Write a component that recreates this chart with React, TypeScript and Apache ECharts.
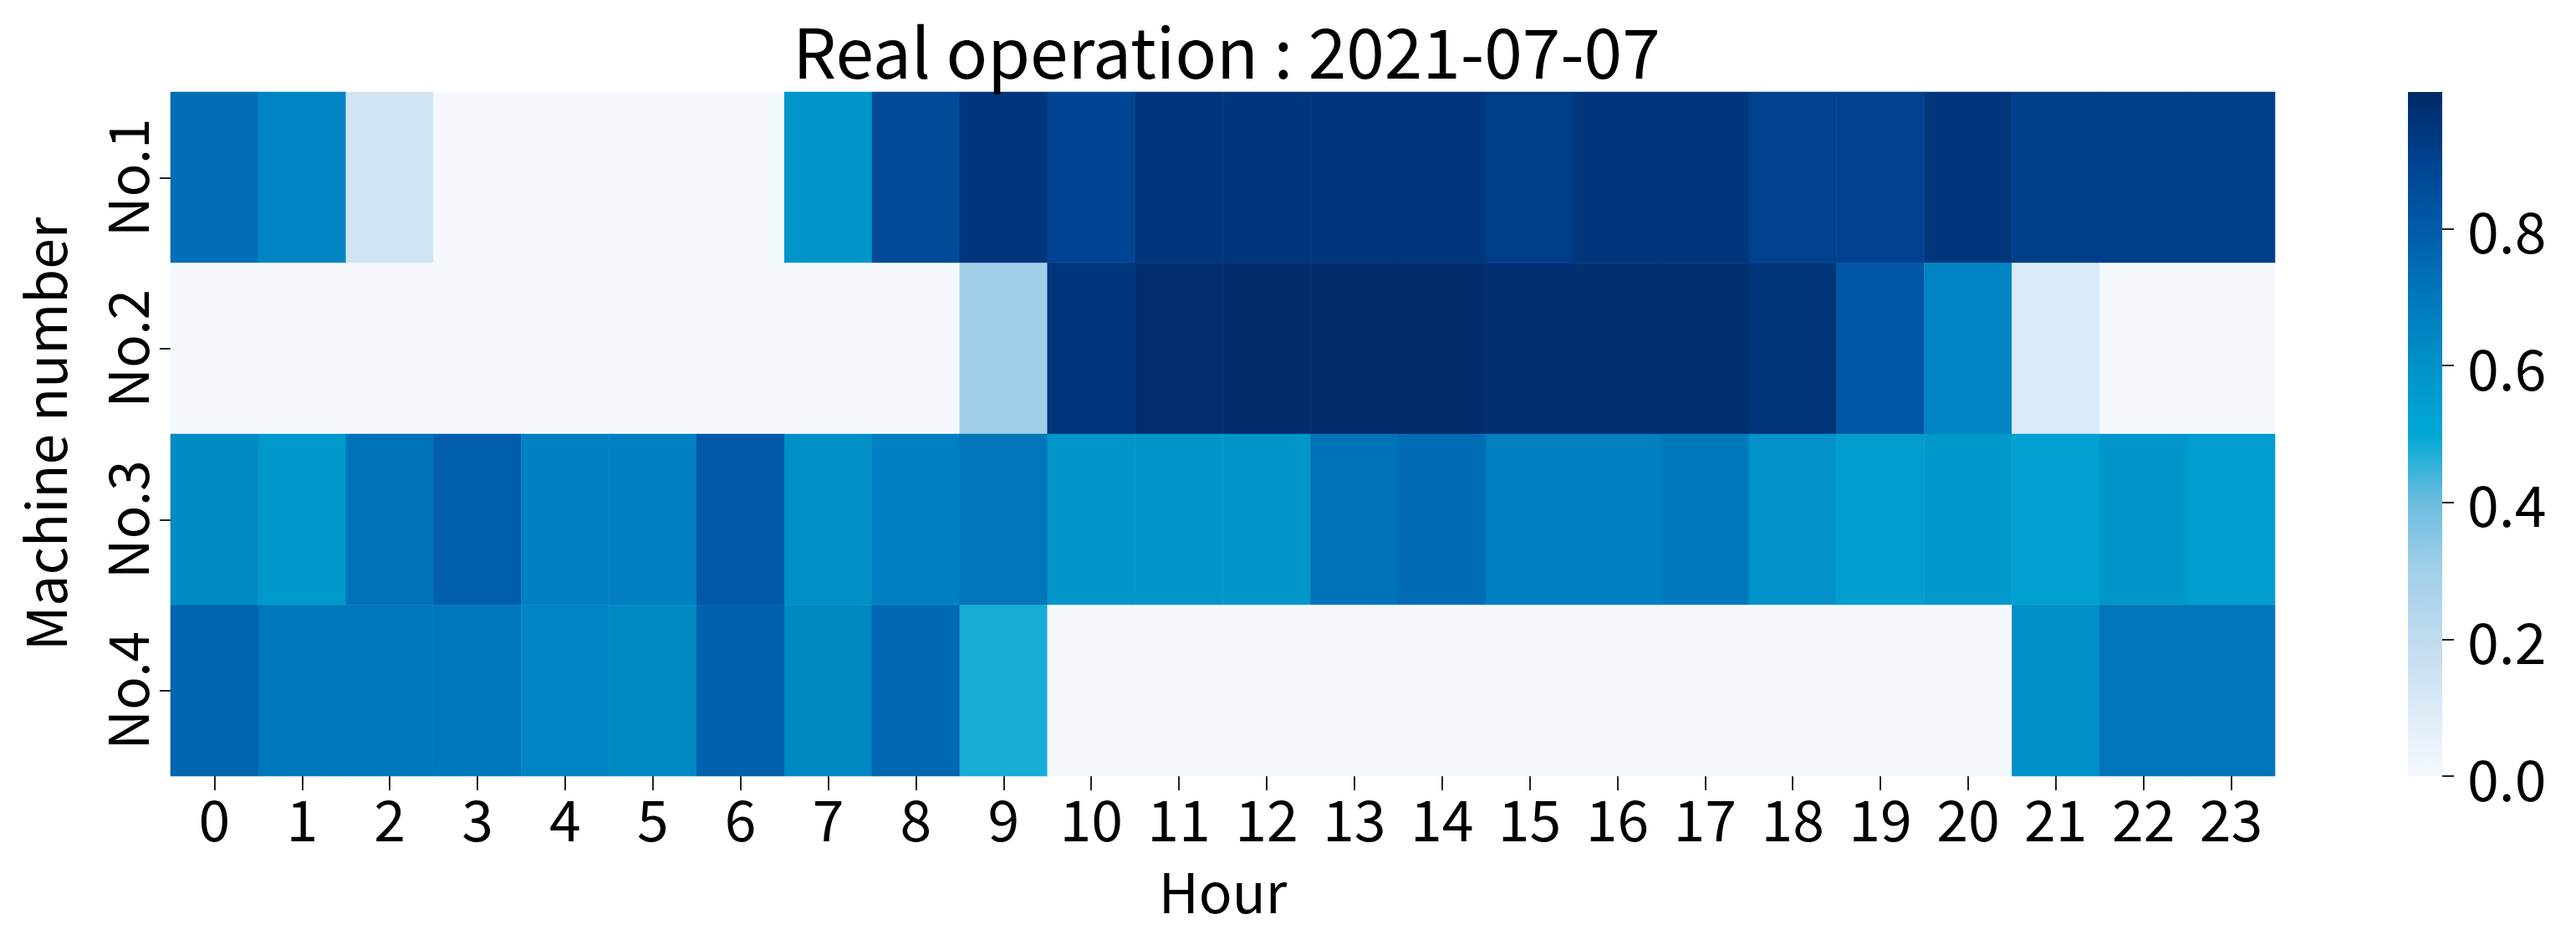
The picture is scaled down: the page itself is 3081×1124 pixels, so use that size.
import React, { useEffect, useRef } from "react";
import * as echarts from "echarts";

const hours = ["0","1","2","3","4","5","6","7","8","9","10","11","12","13","14","15","16","17","18","19","20","21","22","23"];
const machines = ["No.1", "No.2", "No.3", "No.4"];

const no1 = [0.73,0.65,0.14,0,0,0,0,0.58,0.87,0.95,0.89,0.95,0.95,0.95,0.95,0.92,0.95,0.95,0.90,0.90,0.95,0.915,0.915,0.915];
const no2 = [0,0,0,0,0,0,0,0,0,0.3,0.95,0.985,0.99,0.99,0.99,0.975,0.98,0.98,0.96,0.82,0.65,0.1,0,0];
const no3 = [0.63,0.57,0.72,0.79,0.67,0.67,0.81,0.61,0.67,0.71,0.58,0.58,0.58,0.72,0.74,0.67,0.67,0.70,0.60,0.55,0.57,0.53,0.58,0.55];
const no4 = [0.77,0.70,0.70,0.70,0.65,0.63,0.78,0.64,0.76,0.48,0,0,0,0,0,0,0,0,0,0,0,0.61,0.71,0.71];

const colorbarTicks = [0, 0.2, 0.4, 0.6, 0.8];
const colorbarRange = [0, 1];
const colorStops = ["#f5f9fe","#dbeaf7","#c0dbef","#a2cfe8","#6dbde0","#00a8d4","#0092c8","#0078bc","#005ba9","#004290","#002a68"];

const FONT = "Noto Sans CJK JP";

export default function App() {
  const ref = useRef<HTMLDivElement>(null);
  useEffect(() => {
    if (!ref.current) return;
    const chart = echarts.init(ref.current, null, { renderer: "svg" });
    const rows = [no1, no2, no3, no4];
    const data: number[][] = [];
    rows.forEach((r, yi) => r.forEach((v, xi) => data.push([xi, yi, v])));
    const gradient = new echarts.graphic.LinearGradient(
      0, 1, 0, 0,
      colorStops.map((c, i) => ({ offset: i / (colorStops.length - 1), color: c }))
    );
    chart.setOption({
      animation: false,
      backgroundColor: "#ffffff",
      textStyle: { fontFamily: FONT, color: "#000" },
      title: {
        text: "Real operation : 2021-07-07",
        left: 1462,
        top: 12,
        textAlign: "center",
        textStyle: { fontFamily: FONT, fontSize: 82, fontWeight: "normal", color: "#000" },
      },
      grid: [
        { left: 204, top: 110, width: 2517, height: 818 },
        { left: 2880, top: 110, width: 41, height: 818 },
      ],
      xAxis: [
        {
          type: "category",
          data: hours,
          gridIndex: 0,
          name: "Hour",
          nameLocation: "middle",
          nameGap: 102,
          nameTextStyle: { fontFamily: FONT, fontSize: 66, color: "#000" },
          axisLine: { show: false },
          axisTick: { show: true, alignWithLabel: true, length: 17, lineStyle: { color: "#222", width: 2 } },
          axisLabel: { fontFamily: FONT, fontSize: 68, color: "#000", margin: 14, interval: 0 },
          splitLine: { show: false },
        },
        {
          type: "category",
          gridIndex: 1,
          data: ["cb"],
          show: false,
          boundaryGap: true,
        },
      ],
      yAxis: [
        {
          type: "category",
          data: machines,
          gridIndex: 0,
          inverse: true,
          name: "Machine number",
          nameLocation: "middle",
          nameGap: 120,
          nameRotate: 90,
          nameTextStyle: { fontFamily: FONT, fontSize: 66, color: "#000" },
          axisLine: { show: false },
          axisTick: { show: true, alignWithLabel: true, length: 13, lineStyle: { color: "#222", width: 2 } },
          axisLabel: { fontFamily: FONT, fontSize: 66, color: "#000", rotate: 90, margin: 22 },
          splitLine: { show: false },
        },
        {
          type: "value",
          gridIndex: 1,
          position: "right",
          min: colorbarRange[0],
          max: colorbarRange[1],
          axisLine: { show: false },
          splitLine: { show: false },
          axisTick: { show: true, length: 14, customValues: colorbarTicks, lineStyle: { color: "#222", width: 2 } },
          axisLabel: {
            show: true,
            customValues: colorbarTicks,
            fontFamily: FONT,
            fontSize: 68,
            color: "#000",
            margin: 30,
            formatter: (v: number) => v.toFixed(1),
          },
        },
      ],
      visualMap: {
        type: "continuous",
        show: false,
        min: colorbarRange[0],
        max: colorbarRange[1],
        seriesIndex: 0,
        inRange: { color: colorStops },
      },
      series: [
        {
          type: "heatmap",
          xAxisIndex: 0,
          yAxisIndex: 0,
          data,
          itemStyle: { borderWidth: 0 },
          emphasis: { disabled: true },
        },
        {
          type: "bar",
          xAxisIndex: 1,
          yAxisIndex: 1,
          data: [colorbarRange[1]],
          barWidth: "100%",
          itemStyle: { color: gradient },
          emphasis: { disabled: true },
          silent: true,
        },
      ],
    });
    return () => chart.dispose();
  }, []);
  return (
    <div
      ref={ref}
      style={{ position: "absolute", left: 0, top: 0, width: 3081, height: 1124 }}
    />
  );
}
